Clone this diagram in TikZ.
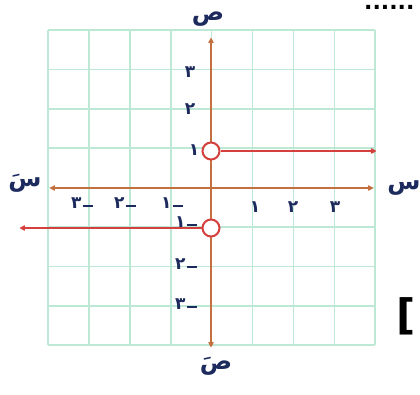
\documentclass[tikz,border=0pt]{standalone}
\usepackage{fontspec}
\newfontfamily\arabicfont[Script=Arabic]{DejaVu Sans}
\newfontfamily\symfont{DejaVu Sans}
\TeXXeTstate=1
\usetikzlibrary{arrows.meta}
\definecolor{gridc}{HTML}{BDE8D6}
\definecolor{axisc}{HTML}{C4703E}
\definecolor{rayc}{HTML}{D4403C}
\definecolor{labc}{HTML}{1C2A5E}
\newcommand{\negd}[1]{#1\kern1pt\rule[0.1em]{0.6em}{1.6pt}}
\begin{document}
\begin{tikzpicture}[x=1pt,y=-1pt,
  gridline/.style={draw=gridc,line width=1.6pt},
  axisline/.style={draw=axisc,line width=2.8pt,-{Stealth[length=7pt,width=7pt,round]},color=axisc},
  rayline/.style={draw=rayc,line width=2.8pt,-{Stealth[length=7pt,width=7pt,round]},color=rayc},
  hole/.style={circle,draw=rayc,fill=white,line width=2pt,minimum size=17pt,inner sep=0pt},
  num/.style={text=labc,font=\arabicfont\bfseries\fontsize{17}{17}\selectfont,inner sep=0pt},
  axlab/.style={text=labc,font=\arabicfont\bfseries\fontsize{24}{24}\selectfont,inner sep=0pt}]
\useasboundingbox (0,0) rectangle (420,394);
\fill[white] (0,0) rectangle (420,394);
% grid
\foreach \i in {0,...,8}{
  \draw[gridline] ({48+\i*40.9},30) -- ({48+\i*40.9},345);
  \draw[gridline] (48,{30+\i*39.4}) -- (375,{30+\i*39.4});
}
% axes
\coordinate (ytop) at (211,38);
\coordinate (ybot) at (211,347);
\coordinate (xleft) at (50,188);
\coordinate (xright) at (373,188);
\coordinate (O) at (211,188);
\draw[axisline] (O) -- (ytop);
\draw[axisline] (O) -- (ybot);
\draw[axisline] (O) -- (xleft);
\draw[axisline] (O) -- (xright);
% holes and rays
\node[hole] (hup) at (211,151) {};
\node[hole] (hdown) at (211,228) {};
\coordinate (rend) at (376,151);
\coordinate (lend) at (20,228);
\draw[rayline] (hup.east) -- (rend);
\draw[rayline] (hdown.west) -- (lend);
% axis labels
\node[axlab] (ly) at (208,19) {\beginR ص\endR};
\node[axlab] (lyn) at (216,366) {\beginR صَ\endR};
\node[axlab] (lx) at (404,188) {\beginR س\endR};
\node[axlab] (lxn) at (25,183) {\beginR سَ\endR};
% y numbers
\node[num] (y3) at (190,72) {٣};
\node[num] (y2) at (190,109) {٢};
\node[num] (y1) at (194,150) {١};
\node[num] (ym1) at (186,222) {\negd{١}};
\node[num] (ym2) at (186,264) {\negd{٢}};
\node[num] (ym3) at (186,304) {\negd{٣}};
% x numbers
\node[num] (x1) at (255,207) {١};
\node[num] (x2) at (293,207) {٢};
\node[num] (x3) at (335,207) {٣};
\node[num] (xm1) at (172,203) {\negd{١}};
\node[num] (xm2) at (125,203) {\negd{٢}};
\node[num] (xm3) at (82,203) {\negd{٣}};
% stray marks
\node[text=black,font=\symfont\bfseries\fontsize{22}{22}\selectfont,inner sep=0pt,anchor=base west] (dots) at (364,9) {......};
\node[text=black,font=\symfont\bfseries\fontsize{42}{42}\selectfont,inner sep=0pt] (brk) at (406,316) {[};
\end{tikzpicture}
\end{document}
